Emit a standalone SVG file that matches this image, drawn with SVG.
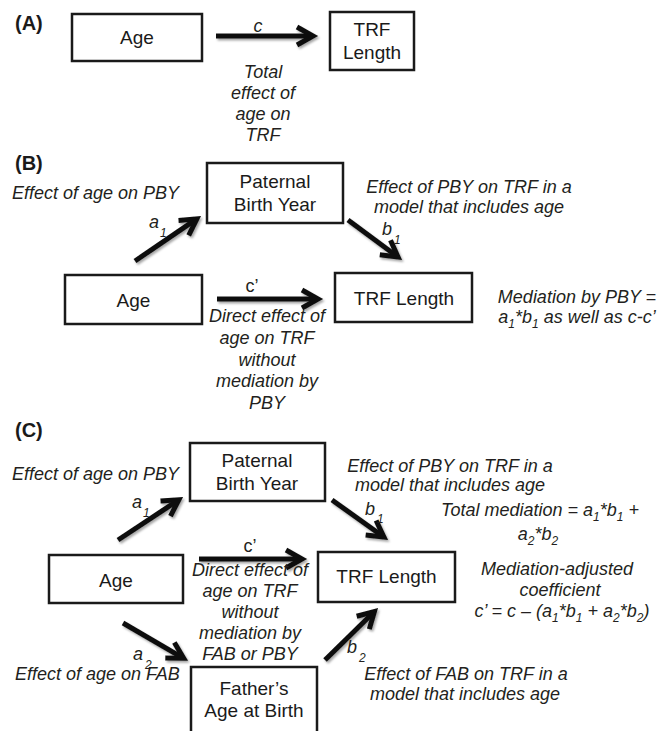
<svg xmlns="http://www.w3.org/2000/svg" width="662" height="731" viewBox="0 0 662 731">
<style>
.box{fill:#fff;stroke:#1a1a1a;stroke-width:2.5}
.nt{font-family:"Liberation Sans",Arial,sans-serif;font-size:19px;fill:#1a1a1a;text-anchor:middle}
.lb{font-family:"Liberation Sans",Arial,sans-serif;font-size:18px;font-style:italic;fill:#231f20}
.up{font-family:"Liberation Sans",Arial,sans-serif;font-size:18px;fill:#231f20}
.m{text-anchor:middle}
.hd{font-family:"Liberation Sans",Arial,sans-serif;font-size:20px;font-weight:bold;fill:#1a1a1a}
.arr{stroke:#111;stroke-width:5;fill:none;marker-end:url(#ah)}
.s{font-size:12px}
</style>
<defs>
<marker id="ah" markerUnits="userSpaceOnUse" viewBox="-22 -15 32 30" markerWidth="32" markerHeight="30" refX="0" refY="0" orient="auto" overflow="visible">
<path d="M-15,-9 L1,0 L-15,9" fill="none" stroke="#111" stroke-width="5"/>
</marker>
<filter id="sh" filterUnits="userSpaceOnUse" x="0" y="0" width="662" height="731">
<feDropShadow dx="1.5" dy="2" stdDeviation="1" flood-color="#000" flood-opacity="0.35"/>
</filter>
</defs>
<rect width="662" height="731" fill="#fff"/>

<!-- headings -->
<text class="hd" x="15" y="30">(A)</text>
<text class="hd" x="15" y="170">(B)</text>
<text class="hd" x="15" y="437">(C)</text>

<!-- Panel A nodes -->
<g id="A-age"><rect class="box" x="72" y="14" width="130" height="47"/><text class="nt" x="137" y="44">Age</text></g>
<g id="A-trf"><rect class="box" x="330" y="12" width="84" height="58"/><text class="nt" x="372" y="36">TRF</text><text class="nt" x="372" y="59">Length</text></g>

<!-- Panel B nodes -->
<g id="B-pby"><rect class="box" x="207" y="163" width="136" height="60"/><text class="nt" x="275" y="188">Paternal</text><text class="nt" x="275" y="211">Birth Year</text></g>
<g id="B-age"><rect class="box" x="65" y="275" width="137" height="49"/><text class="nt" x="133.5" y="307">Age</text></g>
<g id="B-trf"><rect class="box" x="335" y="273" width="137" height="49"/><text class="nt" x="404" y="305">TRF Length</text></g>

<!-- Panel C nodes -->
<g id="C-pby"><rect class="box" x="190" y="443" width="135" height="58"/><text class="nt" x="257" y="467">Paternal</text><text class="nt" x="257" y="490">Birth Year</text></g>
<g id="C-age"><rect class="box" x="49" y="555" width="134" height="48"/><text class="nt" x="116" y="587">Age</text></g>
<g id="C-trf"><rect class="box" x="318" y="552" width="137" height="50"/><text class="nt" x="386.5" y="583">TRF Length</text></g>
<g id="C-fab"><rect class="box" x="191" y="667" width="126" height="80"/><text class="nt" x="254" y="695">Father’s</text><text class="nt" x="254" y="717">Age at Birth</text></g>

<!-- connectors -->
<g id="connectors" filter="url(#sh)">
<line class="arr" x1="216" y1="36" x2="312" y2="36"/>
<line class="arr" x1="135" y1="261" x2="196" y2="219.4"/>
<line class="arr" x1="348" y1="220" x2="397.2" y2="256.4"/>
<line class="arr" x1="217" y1="299" x2="317" y2="299"/>
<line class="arr" x1="118" y1="540" x2="178" y2="500.3"/>
<line class="arr" x1="332" y1="500" x2="383.1" y2="536.5"/>
<line class="arr" x1="199" y1="559" x2="301" y2="559"/>
<line class="arr" x1="123" y1="623" x2="182.8" y2="657.8"/>
<line class="arr" x1="325" y1="660" x2="373.7" y2="612.2"/>
</g>

<!-- Panel A labels -->
<g id="A-labels">
<text class="lb m" x="258" y="32">c</text>
<text class="lb m" x="263" y="78">Total</text>
<text class="lb m" x="263" y="99">effect of</text>
<text class="lb m" x="263" y="120">age on</text>
<text class="lb m" x="263" y="141">TRF</text>
</g>

<!-- Panel B labels -->
<g id="B-labels">
<text class="lb" x="12" y="199">Effect of age on PBY</text>
<text class="lb m" x="469" y="193">Effect of PBY on TRF in a</text>
<text class="lb m" x="469" y="213">model that includes age</text>
<text class="lb" x="149" y="228">a</text><text class="lb s" x="160" y="237">1</text>
<text class="lb" x="382" y="235">b</text><text class="lb s" x="394" y="244">1</text>
<text class="up m" x="252" y="292">c’</text>
<text class="lb m" x="267" y="322">Direct effect of</text>
<text class="lb m" x="267" y="344">age on TRF</text>
<text class="lb m" x="267" y="366">without</text>
<text class="lb m" x="267" y="387">mediation by</text>
<text class="lb m" x="267" y="409">PBY</text>
<text class="lb m" x="577" y="303">Mediation by PBY =</text>
<text class="lb m" x="577" y="323">a<tspan class="s" dy="5">1</tspan><tspan dy="-5">*b</tspan><tspan class="s" dy="5">1</tspan><tspan dy="-5"> as well as c-c’</tspan></text>
</g>

<!-- Panel C labels -->
<g id="C-labels">
<text class="lb" x="12" y="480">Effect of age on PBY</text>
<text class="lb m" x="450" y="472">Effect of PBY on TRF in a</text>
<text class="lb m" x="450" y="491">model that includes age</text>
<text class="lb" x="132" y="508">a</text><text class="lb s" x="143" y="517">1</text>
<text class="lb" x="365" y="515">b</text><text class="lb s" x="377" y="523">1</text>
<text class="up m" x="250" y="552">c’</text>
<text class="lb m" x="250" y="576">Direct effect of</text>
<text class="lb m" x="250" y="597">age on TRF</text>
<text class="lb m" x="250" y="618">without</text>
<text class="lb m" x="250" y="639">mediation by</text>
<text class="lb m" x="250" y="660">FAB or PBY</text>
<text class="lb m" x="540" y="516">Total mediation = a<tspan class="s" dy="5">1</tspan><tspan dy="-5">*b</tspan><tspan class="s" dy="5">1</tspan><tspan dy="-5"> +</tspan></text>
<text class="lb m" x="538" y="540">a<tspan class="s" dy="5">2</tspan><tspan dy="-5">*b</tspan><tspan class="s" dy="5">2</tspan></text>
<text class="lb m" x="557" y="575">Mediation-adjusted</text>
<text class="lb m" x="560" y="596">coefficient</text>
<text class="lb m" x="562" y="617">c’ = c – (a<tspan class="s" dy="5">1</tspan><tspan dy="-5">*b</tspan><tspan class="s" dy="5">1</tspan><tspan dy="-5"> + a</tspan><tspan class="s" dy="5">2</tspan><tspan dy="-5">*b</tspan><tspan class="s" dy="5">2</tspan><tspan dy="-5">)</tspan></text>
<text class="lb" x="133" y="660">a</text><text class="lb s" x="145" y="669">2</text>
<text class="lb" x="15" y="680">Effect of age on FAB</text>
<text class="lb" x="347" y="653">b</text><text class="lb s" x="359" y="662">2</text>
<text class="lb m" x="466" y="680">Effect of FAB on TRF in a</text>
<text class="lb m" x="465" y="700">model that includes age</text>
</g>
</svg>
